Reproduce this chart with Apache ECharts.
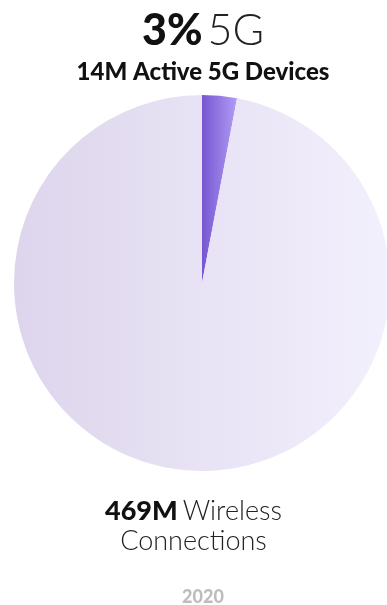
<!DOCTYPE html>
<html>
<head>
<meta charset="utf-8">
<script src="https://cdn.jsdelivr.net/npm/echarts@6/dist/echarts.min.js"></script>
<style>
  html, body { margin: 0; padding: 0; background: #fff; }
  #chart { width: 387px; height: 605px; }
</style>
</head>
<body>
<div id="chart"></div>
<script>
// 数据
var categories = ["5G", "Other"];
var values = [14, 455];
var share = "3%";
var devices = "14M";
var total = "469M";
var year = "2020";

var font = "Lato";
// 文字中心对齐饼图圆心
var cx = 203;

var myChart = echarts.init(document.getElementById("chart"));
var option = {
  animation: false,
  title: [
    {
      text: "{b|" + share + "} {l|" + categories[0] + "}",
      left: cx,
      textAlign: "center",
      top: 10,
      padding: 0,
      textStyle: {
        rich: {
          b: { fontFamily: font, fontWeight: 900, fontSize: 43, color: "#111" },
          l: { fontFamily: font, fontWeight: 300, fontSize: 43, color: "#222" }
        }
      }
    },
    {
      text: devices + " Active 5G Devices",
      left: cx,
      textAlign: "center",
      top: 60,
      padding: 0,
      textStyle: { fontFamily: font, fontWeight: 900, fontSize: 24, color: "#111" }
    },
    {
      text: "{b|" + total + "} {l|Wireless}\n{l|Connections}",
      left: "center",
      top: 496,
      padding: 0,
      textStyle: {
        lineHeight: 30,
        rich: {
          b: { fontFamily: font, fontWeight: 900, fontSize: 27, color: "#111", lineHeight: 30 },
          l: { fontFamily: font, fontWeight: 300, fontSize: 27, color: "#222", lineHeight: 30 }
        }
      }
    },
    {
      text: year,
      left: cx,
      textAlign: "center",
      top: 588,
      padding: 0,
      textStyle: { fontFamily: font, fontWeight: 900, fontSize: 18, color: "#bdbdbd" }
    }
  ],
  series: [
    {
      type: "pie",
      center: [202, 283],
      radius: [0, 188],
      startAngle: 90,
      clockwise: true,
      silent: true,
      label: { show: false },
      labelLine: { show: false },
      data: [
        {
          name: categories[0],
          value: values[0],
          itemStyle: {
            color: new echarts.graphic.LinearGradient(0, 0, 1, 0, [
              { offset: 0, color: "#7656d2" },
              { offset: 1, color: "#b19cf5" }
            ])
          }
        },
        {
          name: categories[1],
          value: values[1],
          itemStyle: {
            color: new echarts.graphic.LinearGradient(0, 0, 1, 0, [
              { offset: 0, color: "#ddd5ec" },
              { offset: 1, color: "#f3f0fd" }
            ])
          }
        }
      ]
    }
  ]
};
myChart.setOption(option);
</script>
</body>
</html>
